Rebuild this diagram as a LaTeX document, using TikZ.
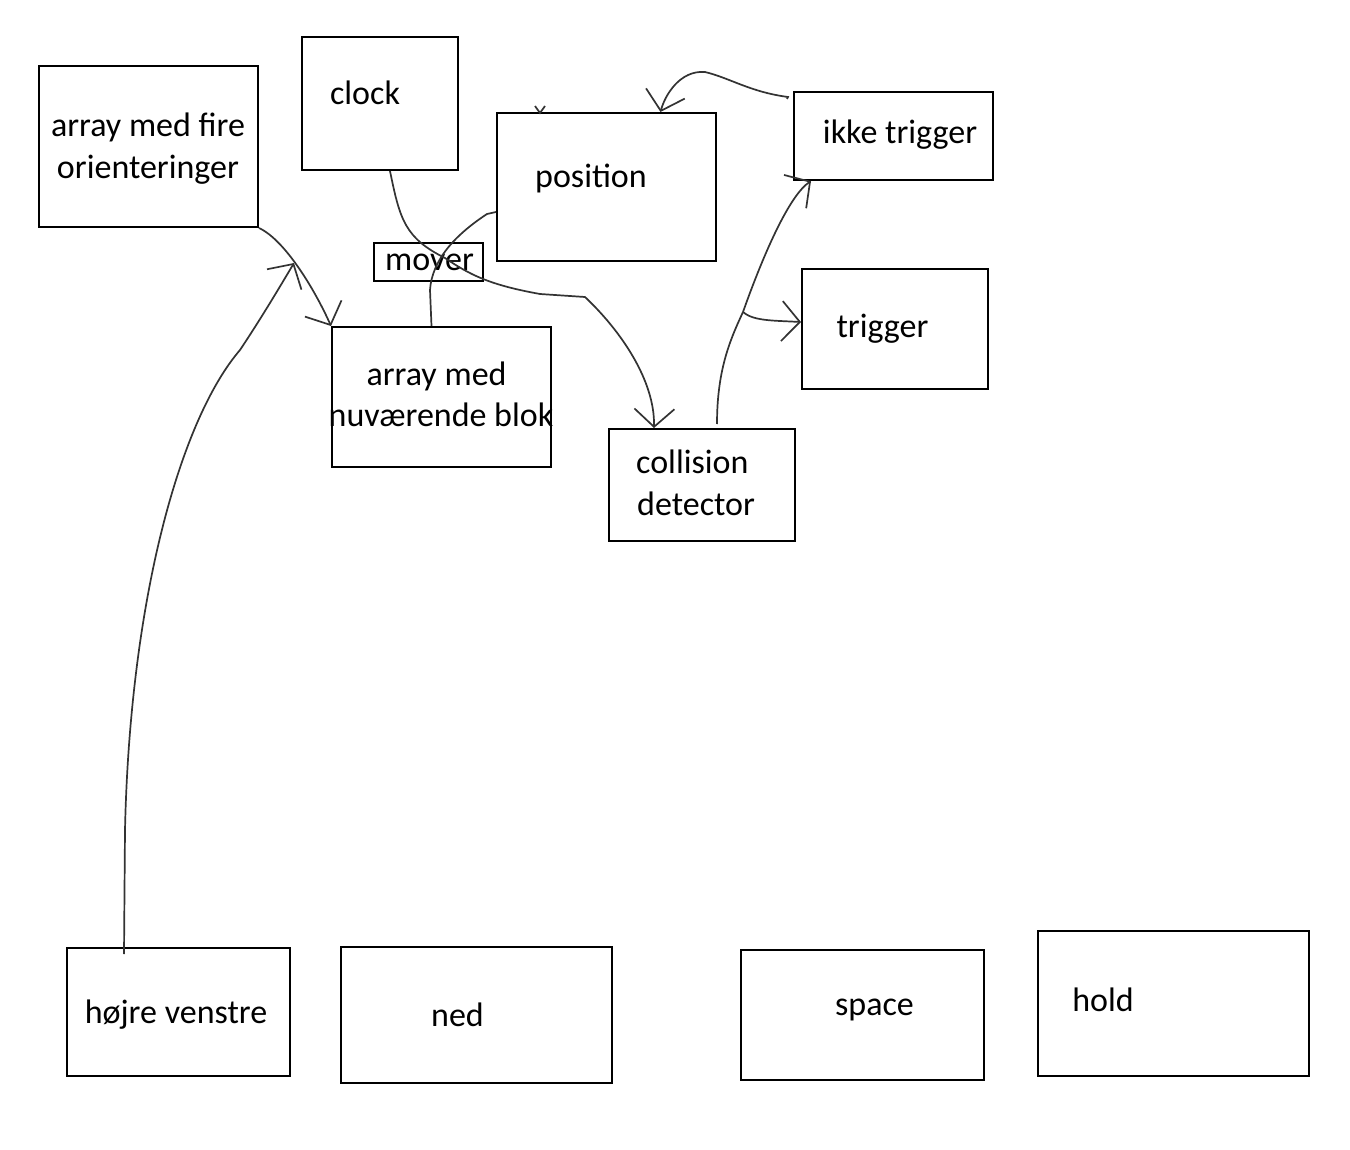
\documentclass[tikz,border=0pt]{standalone}
\usepackage{fontspec}
\setmainfont{Carlito}
\usetikzlibrary{calc,arrows.meta}
\tikzset{
	box/.style={draw=black, line width=2pt, inner sep=0pt},
	txt/.style={inner sep=0pt, anchor=base, font=\fontsize{34}{42}\selectfont},
	pen/.style={draw=black!80, line width=1.7pt},
	tip/.style={-{Straight Barb[length=18pt,width=40pt,line width=1.7pt]}}
}

\begin{document}
\begin{tikzpicture}[x=1pt, y=-1pt]
			%%%%% START %%%%%
			\useasboundingbox[fill=white] (0, 0) rectangle (1350, 1150);
			
			\node[box, minimum width=219, minimum height=161] (orient) at (148.5, 146.5) {};
			\node[txt, align=center] (orientt) at (148, 179) {array med fire\\orienteringer};
			
			\node[box, minimum width=156, minimum height=133] (clock) at (380, 103.5) {};
			\node[txt] (clockt) at (365, 105) {clock};
			
			\node[box, minimum width=219, minimum height=148] (pos) at (606.5, 187) {};
			\node[txt] (post) at (591, 188) {position};
			
			\node[box, minimum width=109, minimum height=38] (mover) at (428.5, 262) {};
			\node[txt] (movert) at (429.5, 271) {mover};
			
			\node[box, minimum width=219, minimum height=140] (blok) at (441.5, 397) {};
			\node[txt] (blokt1) at (436.5, 385) {array med};
			\node[txt] (blokt2) at (441, 426) {nuværende blok};
			
			\node[box, minimum width=186, minimum height=112] (coll) at (702, 485) {};
			\node[txt, anchor=base west] (collt1) at (636, 473) {collision};
			\node[txt, anchor=base west] (collt2) at (637, 515) {detector};
			
			\node[box, minimum width=199, minimum height=88] (ikke) at (893.5, 136) {};
			\node[txt] (ikket) at (900, 144) {ikke trigger};
			
			\node[box, minimum width=186, minimum height=120] (trig) at (895, 329) {};
			\node[txt] (trigt) at (882.5, 338) {trigger};
			
			\node[box, minimum width=223, minimum height=128] (hv) at (178.5, 1012) {};
			\node[txt] (hvt) at (176, 1023) {højre venstre};
			
			\node[box, minimum width=271, minimum height=136] (ned) at (476.5, 1015) {};
			\node[txt] (nedt) at (457.5, 1026) {ned};
			
			\node[box, minimum width=243, minimum height=130] (space) at (862.5, 1015) {};
			\node[txt] (spacet) at (874.5, 1015) {space};
			
			\node[box, minimum width=271, minimum height=145] (hold) at (1173.5, 1003.5) {};
			\node[txt] (holdt) at (1103, 1011) {hold};
			
			% orienteringer -> nuvaerende blok
			\draw[pen, tip] (orient.south east) .. controls (285, 240) and (315, 290) .. (blok.north west);
			\coordinate (hit) at (294, 263);
			
			% hoejre venstre -> orienteringer
			\draw[pen, tip] ($(hv.north west)+(58, 7)$) -- (125, 830) .. controls (130, 600) and (180, 420) .. (240, 350) .. controls (260, 320) and (278, 290) .. (hit);
			
			% clock -> collision detector
			\draw[pen, tip] ($(clock.south)+(10, 0)$) .. controls (400, 220) and (405, 238) .. (445, 258) .. controls (470, 275) and (490, 285) .. (540, 294) -- (585, 297) .. controls (620, 330) and (655, 380) .. ($(coll.north west)+(46, 0)$);
			
			% position -> nuvaerende blok
			\draw[pen] ($(pos.west)+(0, 25)$) -- (487, 214) .. controls (455, 235) and (432, 260) .. (430, 290) -- ($(blok.north)+(-10, 0)$);
			
			% ikke trigger -> position
			\draw[pen, tip] ($(ikke.north west)+(-6, 8)$) -- (788, 97) .. controls (750, 92) and (730, 78) .. (705, 72) .. controls (680, 70) and (665, 95) .. ($(pos.north)+(54, 0)$);
			\draw[pen] (535, 106) -- (540, 113) -- (545, 106);
			
			% collision detector -> trigger / ikke trigger
			\coordinate (fork) at (743, 312);
			\draw[pen] ($(coll.north)+(15, -4)$) .. controls (717, 370) and (730, 340) .. (fork);
			\draw[pen, tip] (fork) .. controls (765, 250) and (790, 195) .. ($(ikke.south west)+(18, 0)$);
			\draw[pen, tip] (fork) .. controls (750, 318) and (760, 320) .. (780, 321) -- ($(trig.west)+(0, -7)$);
			
			%%%%% END %%%%%
\end{tikzpicture}
\end{document}
